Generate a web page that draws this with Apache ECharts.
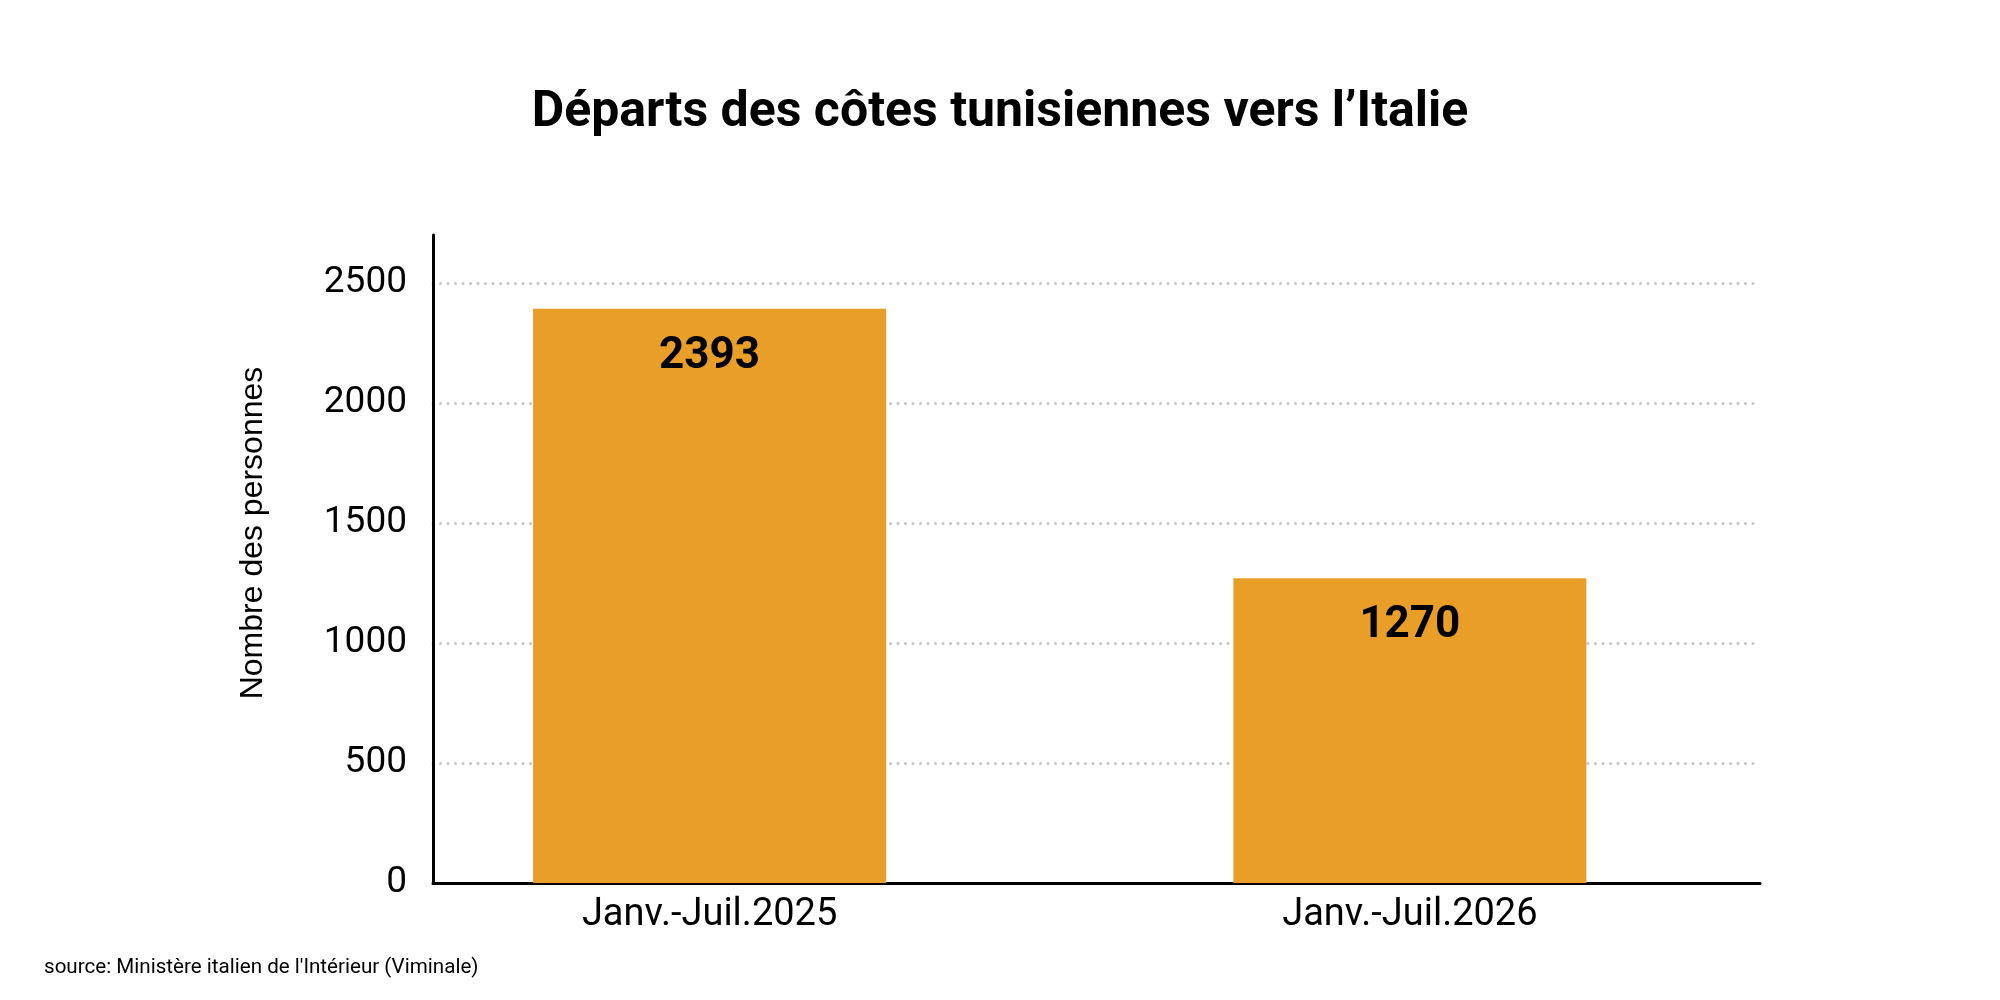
<!DOCTYPE html>
<html>
<head>
<meta charset="utf-8">
<script src="https://cdn.jsdelivr.net/npm/echarts@6/dist/echarts.min.js"></script>
<style>html,body{margin:0;padding:0;background:#fff}#c{width:2000px;height:1000px}</style>
</head>
<body>
<div id="c"></div>
<script>
const titleText = 'Départs des côtes tunisiennes vers l’Italie';
const yAxisName = 'Nombre des personnes';
const sourceText = "source: Ministère italien de l'Intérieur (Viminale)";
const categories = ['Janv.-Juil.2025', 'Janv.-Juil.2026'];
const values = [2393, 1270];
const yTicks = [0, 500, 1000, 1500, 2000, 2500];

const chart = echarts.init(document.getElementById('c'), null, {renderer: 'canvas'});
const catIdx = categories.map((c, i) => i);
chart.setOption({
  backgroundColor: '#ffffff',
  animation: false,
  title: [{
    text: titleText, left: 'center', top: 83,
    textStyle: {fontFamily: 'Roboto', fontWeight: 'bold', fontSize: 50, color: '#000'}
  }, {
    text: sourceText, left: 39, top: 952,
    textStyle: {fontFamily: 'Roboto', fontWeight: 'normal', fontSize: 20.6, color: '#000'}
  }],
  graphic: [{
    type: 'text', x: 253, y: 533, rotation: Math.PI / 2,
    style: {text: yAxisName, fontFamily: 'Liberation Sans', fontSize: 32, fill: '#000',
      align: 'center', verticalAlign: 'middle'}
  }],
  grid: {left: 433, right: 240, top: 235, bottom: 117},
  xAxis: {
    type: 'value', min: -0.395, max: 1.5,
    axisLine: {show: true, onZero: false, lineStyle: {color: '#000', width: 3}},
    axisTick: {show: false},
    splitLine: {show: false},
    axisLabel: {
      customValues: catIdx, margin: 13,
      formatter: v => categories[Math.round(v)] || '',
      fontFamily: 'Roboto', fontSize: 38, color: '#000'
    }
  },
  yAxis: {
    type: 'value', min: 0, max: 2700,
    axisLine: {show: true, onZero: false, lineStyle: {color: '#000', width: 3}},
    axisTick: {show: false},
    axisLabel: {customValues: yTicks, margin: 26, fontFamily: 'Roboto', fontSize: 37, color: '#000',
      formatter: v => String(v)},
    splitLine: {show: true, showMinLine: false, showMaxLine: false,
      lineStyle: {color: '#c4c4c4', width: 3, type: [0, 7.5], cap: 'round'}}
  },
  series: [{
    type: 'bar', barWidth: 353,
    data: categories.map((c, i) => [catIdx[i], values[i]]),
    itemStyle: {color: '#E89E27'},
    label: {show: true, position: 'insideTop', distance: 26,
      fontFamily: 'Roboto', fontWeight: 'bold', fontSize: 44, color: '#000',
      formatter: p => String(p.value[1])}
  }]
});
</script>
</body>
</html>
